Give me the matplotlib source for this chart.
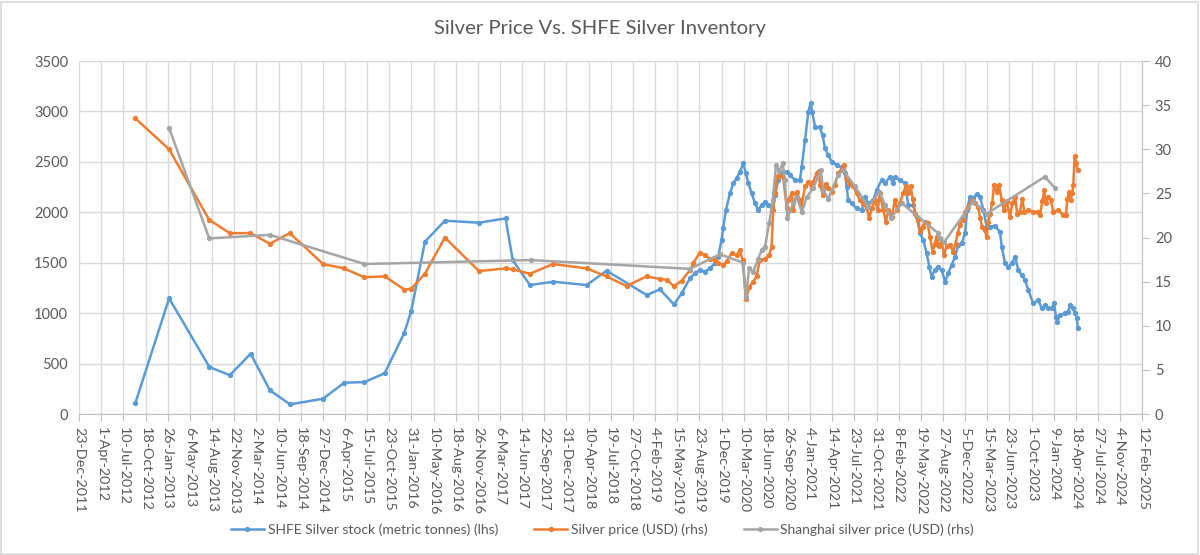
import matplotlib
matplotlib.use("Agg")
import matplotlib.pyplot as plt
import matplotlib.dates as mdates
from matplotlib.ticker import FuncFormatter, MultipleLocator
from matplotlib.patches import Rectangle
import pandas as pd

# SHFE silver stock, metric tonnes (left axis)
stock_dates = [
    "2012-09-02", "2013-02-01", "2013-08-02", "2013-11-02", "2014-02-04", "2014-05-02",
    "2014-08-01", "2014-12-28", "2015-04-02", "2015-07-03", "2015-10-02", "2015-12-29",
    "2016-01-30", "2016-04-01", "2016-06-30", "2016-12-01", "2017-03-31", "2017-05-02",
    "2017-07-19", "2017-11-01", "2018-04-01", "2018-06-30", "2018-12-28", "2019-02-26",
    "2019-04-30", "2019-06-04", "2019-07-11", "2019-08-03", "2019-08-25", "2019-09-17",
    "2019-10-09", "2019-11-01", "2019-11-16", "2019-12-01", "2019-12-08", "2019-12-21",
    "2020-01-08", "2020-01-23", "2020-02-07", "2020-02-22", "2020-03-08", "2020-03-20",
    "2020-03-31", "2020-04-15", "2020-04-30", "2020-05-15", "2020-05-30", "2020-06-14",
    "2020-06-29", "2020-07-14", "2020-07-29", "2020-08-13", "2020-08-28", "2020-09-20",
    "2020-10-05", "2020-10-27", "2020-11-19", "2020-11-27", "2020-12-12", "2020-12-27",
    "2021-01-06", "2021-01-13", "2021-01-26", "2021-02-17", "2021-03-01", "2021-03-12",
    "2021-03-27", "2021-04-11", "2021-05-04", "2021-05-26", "2021-06-10", "2021-06-18",
    "2021-06-25", "2021-07-10", "2021-08-02", "2021-08-25", "2021-09-08", "2021-09-23",
    "2021-10-16", "2021-10-31", "2021-11-23", "2021-12-08", "2021-12-30", "2022-01-14",
    "2022-01-22", "2022-02-13", "2022-03-08", "2022-03-23", "2022-04-14", "2022-04-30",
    "2022-05-15", "2022-05-30", "2022-06-14", "2022-06-26", "2022-07-06", "2022-07-21",
    "2022-08-05", "2022-08-21", "2022-09-05", "2022-09-19", "2022-10-05", "2022-10-20",
    "2022-11-04", "2022-11-19", "2022-12-04", "2022-12-14", "2022-12-26", "2023-01-11",
    "2023-01-26", "2023-02-10", "2023-02-25", "2023-03-12", "2023-03-27", "2023-04-18",
    "2023-05-11", "2023-05-19", "2023-06-03", "2023-06-18", "2023-07-03", "2023-07-18",
    "2023-08-02", "2023-08-17", "2023-09-01", "2023-09-16", "2023-10-08", "2023-10-31",
    "2023-11-15", "2023-11-30", "2023-12-15", "2023-12-31", "2024-01-10", "2024-01-19",
    "2024-01-25", "2024-02-06", "2024-02-29", "2024-03-15", "2024-03-22", "2024-04-06",
    "2024-04-14", "2024-04-22", "2024-04-26",
]
stock = [
    112, 1147, 466, 385, 598, 235,
    96, 152, 310, 317, 404, 800,
    1021, 1709, 1917, 1897, 1940, 1527,
    1279, 1312, 1279, 1421, 1180, 1236,
    1087, 1196, 1345, 1395, 1428, 1411,
    1445, 1494, 1560, 1725, 1841, 2023,
    2188, 2287, 2337, 2402, 2486, 2386,
    2287, 2188, 2089, 2023, 2072, 2105,
    2072, 2039, 2171, 2320, 2402, 2402,
    2370, 2320, 2320, 2452, 2717, 2998,
    3081, 2998, 2849, 2842, 2766, 2634,
    2568, 2502, 2469, 2446, 2386, 2254,
    2122, 2089, 2039, 2023, 2155, 2089,
    2122, 2221, 2320, 2287, 2353, 2287,
    2353, 2320, 2287, 2072, 2072, 1956,
    1791, 1725, 1593, 1461, 1362, 1428,
    1461, 1428, 1312, 1395, 1477, 1560,
    1676, 1692, 1791, 2023, 2155, 2138,
    2181, 2155, 2023, 1857, 1857, 1864,
    1808, 1659, 1494, 1461, 1494, 1560,
    1428, 1378, 1329, 1229, 1097, 1130,
    1048, 1081, 1048, 1048, 1097, 965,
    916, 982, 998, 1015, 1081, 1048,
    998, 949, 850,
]

# Silver price, USD (right axis)
price_dates = [
    "2012-09-02", "2013-02-01", "2013-08-01", "2013-11-02", "2014-02-03", "2014-05-02",
    "2014-07-31", "2014-12-28", "2015-04-02", "2015-07-02", "2015-10-03", "2015-12-30",
    "2016-01-30", "2016-04-01", "2016-06-30", "2016-12-01", "2017-03-31", "2017-05-02",
    "2017-07-19", "2017-11-01", "2018-04-01", "2018-06-30", "2018-09-28", "2018-12-28",
    "2019-02-26", "2019-03-28", "2019-04-30", "2019-06-04", "2019-07-11", "2019-07-26",
    "2019-08-25", "2019-09-17", "2019-10-09", "2019-11-01", "2019-11-16", "2019-12-08",
    "2019-12-24", "2020-01-15", "2020-02-07", "2020-02-22", "2020-03-05", "2020-03-20",
    "2020-04-04", "2020-04-22", "2020-05-07", "2020-05-22", "2020-06-14", "2020-07-03",
    "2020-07-14", "2020-07-21", "2020-07-29", "2020-08-06", "2020-08-17", "2020-09-04",
    "2020-09-20", "2020-09-27", "2020-10-13", "2020-10-20", "2020-11-04", "2020-11-19",
    "2020-11-27", "2020-12-12", "2020-12-27", "2021-01-11", "2021-01-18", "2021-02-02",
    "2021-02-13", "2021-02-17", "2021-03-04", "2021-03-16", "2021-03-27", "2021-04-11",
    "2021-04-26", "2021-05-11", "2021-05-26", "2021-06-07", "2021-06-18", "2021-07-03",
    "2021-07-18", "2021-08-02", "2021-08-17", "2021-09-01", "2021-09-16", "2021-09-28",
    "2021-10-09", "2021-10-24", "2021-11-05", "2021-11-15", "2021-11-30", "2021-12-12",
    "2021-12-23", "2022-01-07", "2022-01-22", "2022-02-01", "2022-02-13", "2022-02-28",
    "2022-03-12", "2022-03-23", "2022-04-03", "2022-04-12", "2022-04-22", "2022-05-07",
    "2022-05-15", "2022-05-27", "2022-06-06", "2022-06-18", "2022-06-29", "2022-07-11",
    "2022-07-21", "2022-07-29", "2022-08-10", "2022-08-21", "2022-08-31", "2022-09-12",
    "2022-09-27", "2022-10-12", "2022-10-23", "2022-11-01", "2022-11-11", "2022-11-23",
    "2022-12-04", "2022-12-19", "2023-01-03", "2023-01-18", "2023-02-02", "2023-02-10",
    "2023-02-20", "2023-03-04", "2023-03-12", "2023-03-19", "2023-03-27", "2023-04-06",
    "2023-04-14", "2023-04-26", "2023-05-07", "2023-05-19", "2023-05-29", "2023-06-10",
    "2023-06-25", "2023-07-06", "2023-07-18", "2023-07-28", "2023-08-09", "2023-08-20",
    "2023-08-29", "2023-09-16", "2023-10-08", "2023-10-31", "2023-11-08", "2023-11-18",
    "2023-11-27", "2023-12-03", "2023-12-15", "2023-12-26", "2024-01-07", "2024-01-29",
    "2024-02-21", "2024-03-04", "2024-03-10", "2024-03-19", "2024-03-25", "2024-04-01",
    "2024-04-06", "2024-04-12", "2024-04-18", "2024-04-26",
]
price = [
    33.5, 30.0, 22.0, 20.5, 20.5, 19.3,
    20.5, 17.0, 16.5, 15.5, 15.6, 14.1,
    14.2, 15.9, 20.0, 16.2, 16.5, 16.4,
    15.9, 17.0, 16.5, 15.6, 14.5, 15.6,
    15.3, 15.2, 14.5, 15.1, 16.3, 17.1,
    18.3, 18.0, 17.6, 17.4, 17.1, 16.9,
    17.3, 18.2, 18.0, 18.6, 17.45, 13.0,
    14.4, 15.0, 15.6, 17.45, 17.6, 18.0,
    18.96, 23.1, 25.0, 26.9, 27.1, 26.9,
    23.4, 24.25, 25.0, 23.1, 25.2, 24.25,
    23.7, 25.8, 26.3, 25.6, 26.3, 27.3,
    27.5, 25.95, 24.8, 26.1, 25.6, 25.2,
    25.95, 27.3, 27.8, 28.2, 26.5, 26.1,
    25.8, 25.0, 24.25, 23.9, 23.3, 22.2,
    23.3, 24.25, 23.1, 25.0, 23.1, 21.8,
    23.1, 22.35, 24.25, 23.1, 23.9, 25.0,
    25.8, 25.0, 25.8, 24.4, 22.7, 22.0,
    20.7, 21.2, 21.8, 21.6, 20.1, 18.4,
    19.3, 20.1, 19.0, 19.5, 18.0, 19.0,
    19.15, 18.4, 19.3, 20.5, 21.4, 22.0,
    22.9, 23.5, 24.25, 23.9, 23.5, 22.2,
    21.2, 20.85, 20.1, 21.8, 22.7, 23.9,
    25.95, 25.2, 25.95, 24.25, 23.1, 24.1,
    22.35, 23.9, 24.6, 22.7, 22.9, 24.4,
    22.9, 23.1, 22.9, 22.9, 22.55, 24.1,
    25.4, 23.9, 24.6, 24.25, 22.9, 23.1,
    22.55, 22.55, 24.4, 25.2, 24.25, 25.0,
    25.95, 29.2, 28.5, 27.65,
]

# Shanghai silver price, USD (right axis)
shanghai_dates = [
    "2013-02-01", "2013-08-01", "2014-05-02", "2015-07-03", "2017-07-22", "2019-07-11",
    "2019-11-24", "2020-03-08", "2020-03-19", "2020-04-04", "2020-04-22", "2020-05-15",
    "2020-05-30", "2020-06-14", "2020-07-03", "2020-07-19", "2020-08-03", "2020-08-17",
    "2020-09-02", "2020-09-12", "2020-09-23", "2020-10-20", "2020-11-04", "2020-11-27",
    "2020-12-20", "2021-01-18", "2021-02-21", "2021-03-04", "2021-03-27", "2021-05-11",
    "2021-06-02", "2021-07-25", "2021-09-23", "2021-11-12", "2021-12-08", "2022-01-04",
    "2022-02-21", "2022-08-05", "2022-08-13", "2022-09-01", "2023-01-10", "2023-03-12",
    "2023-11-30", "2024-01-14",
]
shanghai = [
    32.4, 19.9, 20.3, 17.0, 17.45, 16.45,
    18.1, 17.15, 13.3, 16.5, 16.1, 17.6,
    18.6, 18.96, 21.6, 24.25, 28.2, 27.5,
    28.4, 26.5, 22.2, 23.9, 24.6, 22.9,
    24.6, 25.6, 27.65, 25.4, 24.4, 27.1,
    27.65, 25.8, 23.5, 25.2, 23.7, 22.2,
    23.9, 20.5, 19.9, 19.5, 24.1, 22.7,
    26.9, 25.6,
]

labels = ["SHFE Silver stock (metric tonnes) (lhs)",
          "Silver price (USD) (rhs)",
          "Shanghai silver price (USD) (rhs)"]

txt = "#595959"
grid = "#D9D9D9"
plt.rcParams['font.family'] = ['Lato', 'DejaVu Sans']

fig = plt.figure(figsize=(12, 5.55), dpi=100)
ax = fig.add_axes([0.066, 0.254, 0.886, 0.636])
ax2 = ax.twinx()

l1, = ax.plot(pd.to_datetime(stock_dates), stock, color="#5B9BD5", lw=1.8,
              marker="o", ms=2.8, label=labels[0])
l2, = ax2.plot(pd.to_datetime(price_dates), price, color="#ED7D31", lw=1.8,
               marker="o", ms=2.8, label=labels[1])
l3, = ax2.plot(pd.to_datetime(shanghai_dates), shanghai, color="#A5A5A5", lw=1.8,
               marker="o", ms=2.8, label=labels[2])

start = pd.Timestamp("2011-12-23")
end = pd.Timestamp("2025-02-12")
ax.set_xlim(start, end)
ticks = pd.date_range(start, end, freq="100D")
ax.set_xticks(ticks)
ax.xaxis.set_major_formatter(FuncFormatter(
    lambda v, p: (lambda d: f"{d.day}-{d:%b-%Y}")(mdates.num2date(v))))
for lab in ax.get_xticklabels():
    lab.set_rotation(-90)
    lab.set_va("top")
    lab.set_ha("center")

ax.set_ylim(0, 3500)
ax.yaxis.set_major_locator(MultipleLocator(500))
ax2.set_ylim(0, 40)
ax2.yaxis.set_major_locator(MultipleLocator(5))

ax.grid(True, color=grid, lw=1.0)
ax.set_axisbelow(True)
for a in (ax, ax2):
    for s in a.spines.values():
        s.set_visible(False)
ax.spines['bottom'].set_visible(True)
ax.spines['bottom'].set_color("#BFBFBF")
ax2.spines['right'].set_visible(True)
ax2.spines['right'].set_color("#BFBFBF")

ax.tick_params(axis='x', colors=txt, labelsize=10.4, length=5, color="#BFBFBF", pad=4)
ax.tick_params(axis='y', colors=txt, labelsize=10.5, length=0, pad=8)
ax2.tick_params(axis='y', colors=txt, labelsize=10.5, length=5, color="#BFBFBF", pad=4)

fig.text(0.5, 0.948, "Silver Price Vs. SHFE Silver Inventory", ha="center", va="center",
         fontsize=14.6, color=txt)

leg = fig.legend(handles=[l1, l2, l3], loc="center", bbox_to_anchor=(0.502, 0.045),
                 ncol=3, frameon=False, fontsize=10, handlelength=2.4,
                 columnspacing=2.6, handletextpad=0.25)
for t in leg.get_texts():
    t.set_color(txt)

fig.patches.append(Rectangle((0.001, 0.002), 0.997, 0.995, transform=fig.transFigure,
                             fill=False, edgecolor=grid, lw=1.2))

fig.savefig("out.png", dpi=100)
